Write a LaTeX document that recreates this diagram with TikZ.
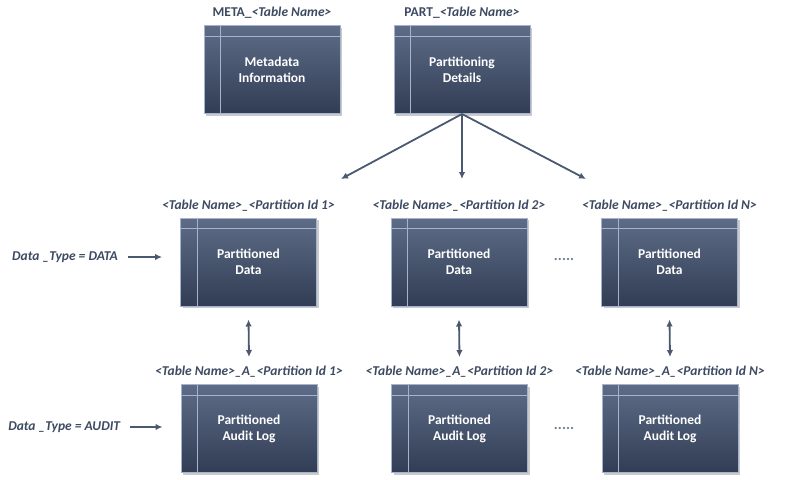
\documentclass[tikz,border=0pt]{standalone}
\usepackage{fontspec}
\setmainfont{Carlito}
\usetikzlibrary{arrows.meta,shadows,positioning}
\definecolor{boxtop}{HTML}{5E6C87}
\definecolor{boxbot}{HTML}{313D54}
\definecolor{boxline}{HTML}{A4B4D0}
\definecolor{labtext}{HTML}{3D4A61}
\definecolor{conn}{HTML}{4B5970}
\definecolor{dots}{HTML}{6F7C92}

\begin{document}
\begin{tikzpicture}[x=1pt,y=-1pt,
  tbl/.style={minimum width=136pt,minimum height=88pt,inner sep=0pt,draw=boxline,line width=1pt,
    top color=boxtop,bottom color=boxbot,
    drop shadow={shadow xshift=2pt,shadow yshift=-2pt,opacity=.35,fill=black!60},
    text=white,align=center,font=\bfseries\fontsize{13.5}{16}\selectfont},
  tname/.style={text=labtext,inner sep=0pt,font=\bfseries\fontsize{13.5}{15}\selectfont},
  inner/.style={draw=boxline,line width=1pt},
  conn/.style={draw=conn,line width=1.8pt,-{Latex[length=7pt,width=6.5pt]}},
  dconn/.style={draw=conn,line width=1.8pt,{Latex[length=7pt,width=6.5pt]}-{Latex[length=7pt,width=6.5pt]}}]
\useasboundingbox (0,0) rectangle (792,479);

% top row
\node[tbl] (m) at (272,69.5) {Metadata\\Information};
\node[tbl] (p) at (462,69.5) {Partitioning\\Details};
\node[tname] (lm) at ([yshift=12pt]m.north) {META\_\textit{<Table Name>}};
\node[tname] (lp) at ([yshift=12pt]p.north) {PART\_\textit{<Table Name>}};

% data row
\node[tbl] (d1) at (248.5,262) {Partitioned\\Data};
\node[tbl] (d2) at (459,262) {Partitioned\\Data};
\node[tbl] (d3) at (669.5,262) {Partitioned\\Data};
\node[tname] (ld1) at ([yshift=12pt]d1.north) {\textit{<Table Name>\_<Partition Id 1>}};
\node[tname] (ld2) at ([yshift=12pt]d2.north) {\textit{<Table Name>\_<Partition Id 2>}};
\node[tname] (ld3) at ([yshift=12pt]d3.north) {\textit{<Table Name>\_<Partition Id N>}};

% audit row
\node[tbl] (a1) at (249,428.5) {Partitioned\\Audit Log};
\node[tbl] (a2) at (459.5,428.5) {Partitioned\\Audit Log};
\node[tbl] (a3) at (670,428.5) {Partitioned\\Audit Log};
\node[tname] (la1) at ([yshift=12pt]a1.north) {\textit{<Table Name>\_A\_<Partition Id 1>}};
\node[tname] (la2) at ([yshift=12pt]a2.north) {\textit{<Table Name>\_A\_<Partition Id 2>}};
\node[tname] (la3) at ([yshift=12pt]a3.north) {\textit{<Table Name>\_A\_<Partition Id N>}};

\foreach \n in {m,p,d1,d2,d3,a1,a2,a3} {
  \draw[inner] ([yshift=-11pt]\n.north west) -- ([yshift=-11pt]\n.north east);
  \draw[inner] ([xshift=17pt]\n.north west) -- ([xshift=17pt]\n.south west);
}

% fan out of the partitioning table
\coordinate (t1) at (341,179);
\coordinate (t2) at (462,179);
\coordinate (t3) at (586,179);
\draw[conn] (p.south) -- (t1);
\draw[conn] (p.south) -- (t2);
\draw[conn] (p.south) -- (t3);

% data <-> audit
\draw[dconn] ([yshift=-13pt]d1.south) -- ([yshift=27pt]a1.north);
\draw[dconn] ([yshift=-13pt]d2.south) -- ([yshift=27pt]a2.north);
\draw[dconn] ([yshift=-13pt]d3.south) -- ([yshift=27pt]a3.north);

% data types
\node[tname] (tdata) at (65,257) {\textit{Data \_Type = DATA}};
\node[tname] (taudit) at (64.5,427) {\textit{Data \_Type = AUDIT}};
\draw[conn,shorten <=10pt,shorten >=18pt] (tdata.east) -- (tdata.east -| d1.west);
\draw[conn,shorten <=9pt,shorten >=18pt] (taudit.east) -- (taudit.east -| a1.west);

% more partitions
\node[text=dots,font=\bfseries\fontsize{15}{16}\selectfont] (md) at (564,259) {.....};
\node[text=dots,font=\bfseries\fontsize{15}{16}\selectfont] (ma) at (564,428) {.....};

\end{tikzpicture}
\end{document}
